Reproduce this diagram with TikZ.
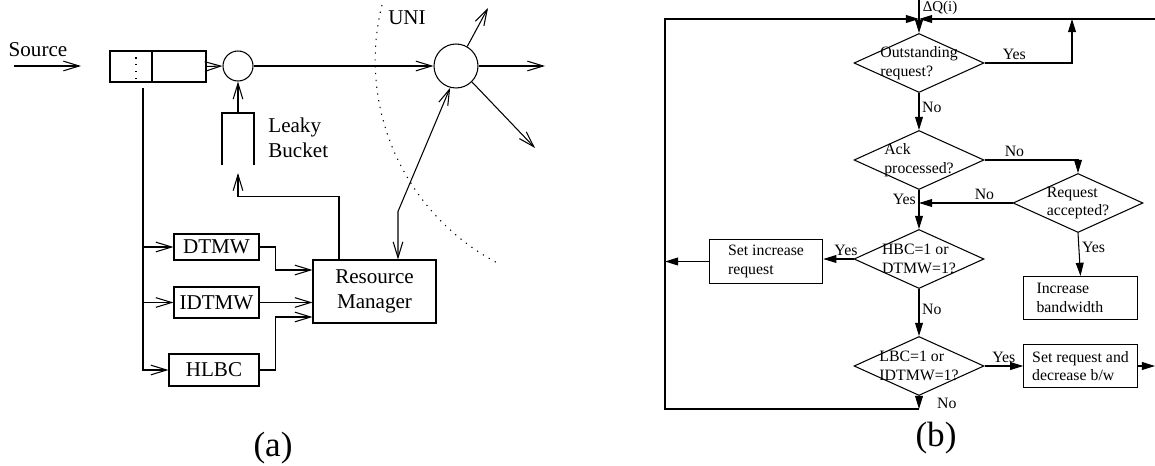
\documentclass[tikz,border=0pt]{standalone}
\usepackage{fontspec}
\setmainfont{Liberation Serif}
\usetikzlibrary{arrows.meta,shapes.geometric}

\tikzset{
  barb/.style={-{Straight Barb[length=9pt,width=5.5pt]}},
  barbs/.style={{Straight Barb[length=9pt,width=5.5pt]}-{Straight Barb[length=9pt,width=5.5pt]}},
  solid tip/.style={-{Triangle[length=7.5pt,width=4.5pt]}},
  big/.style={font=\fontsize{12}{14.5}\selectfont},
  blk/.style={big, draw, inner sep=0pt},
  test/.style={draw, diamond, minimum width=2.6cm, minimum height=1.18cm, inner sep=0pt},
  txt/.style={font=\fontsize{9}{10.5}\selectfont, align=left},
  act/.style={txt, draw, minimum width=2.27cm, minimum height=0.86cm},
  ans/.style={font=\fontsize{9}{10.5}\selectfont, inner sep=1.5pt},
  dots/.style={dash pattern=on 0.7pt off 3.2pt},
}

\begin{document}
\begin{tikzpicture}[x=0.02cm, y=-0.02cm, line width=0.6pt]
\useasboundingbox (0,0) rectangle (1155,466);

%% (a) shaping at the source
\node[big] (src) at (38,50) {Source};
\coordinate (srcin) at (14,66);
\coordinate (srcout) at (81,66);
\draw[barb] (srcin) -- (srcout);

\node[draw, minimum width=1.92cm, minimum height=0.62cm, inner sep=0pt] (queue) at (158,66.5) {};
\draw ([xshift=-0.12cm]queue.north) -- ([xshift=-0.12cm]queue.south);
\draw[dots] ([xshift=-0.44cm]queue.north) -- ([xshift=-0.44cm]queue.south);

\node[draw, circle, minimum size=0.6cm, inner sep=0pt] (mux) at (238,66) {};
\node[draw, circle, minimum size=0.88cm, inner sep=0pt] (sw) at (456,66) {};
\draw[barb] (queue.east) -- (mux.west);
\draw[barb] (mux.east) -- (sw.west);

% links out of the switch
\coordinate (out1) at (488,8);
\coordinate (out2) at (545,66);
\coordinate (out3) at (535,148);
\draw[barb] (sw.60) -- (out1);
\draw[barb] (sw.east) -- (out2);
\draw[barb] (sw.-45) -- (out3);

% network boundary
\draw[dots] (382,5) arc[start angle=194, end angle=118, radius=229];
\node[big] (uni) at (407,18) {UNI};

% leaky bucket
\draw (222,165) -- (222,113) -- (254,113) -- (254,165);
\coordinate (bkt) at (238,113);
\coordinate (bktin) at (238,173);
\draw[barb] (bkt) -- (mux.south);
\node[big, align=left, anchor=west] (lbname) at (262,138) {Leaky\\Bucket};

% monitors and resource manager
\node[blk, minimum width=1.7cm, minimum height=0.52cm] (dtmw) at (216.5,247) {DTMW};
\node[blk, minimum width=1.7cm, minimum height=0.62cm] (idtmw) at (216.5,302.5) {IDTMW};
\node[blk, minimum width=1.8cm, minimum height=0.64cm] (hlbc) at (214,370) {HLBC};
\node[blk, minimum width=2.46cm, minimum height=1.26cm, align=center] (rm) at (374.5,291.5) {Resource\\Manager};

\coordinate (tap) at (143,88);
\draw[barb] (tap) |- (hlbc.west);
\draw[barb] (tap |- dtmw.west) -- (dtmw.west);
\draw[barb] (tap |- idtmw.west) -- (idtmw.west);

\draw[barb] (dtmw.east) -- ++(16,0) |- ([yshift=0.43cm]rm.west);
\draw[barb] (idtmw.east) -- (idtmw.east -| rm.west);
\draw[barb] (hlbc.east) -- ++(16,0) |- ([yshift=-0.51cm]rm.west);
\draw[barb] ([xshift=-0.71cm]rm.north) -- ++(0,-63) -| (bktin);
\draw[barbs] ([xshift=0.47cm]rm.north) -- ++(0,-48) -- (sw.255);

\node[font=\fontsize{20}{24}\selectfont] (capa) at (273,448) {(a)};

%% (b) resource manager decisions
\node[test, label={[txt]center:{Outstanding\\request?}}] (d1) at (919,63) {};
\node[test, label={[txt]center:{Ack\\processed?}}] (d2) at (919,160) {};
\node[test, label={[txt]center:{Request\\accepted?}}] (d3) at (1078,203) {};
\node[test, label={[txt]center:{HBC=1 or\\DTMW=1?}}] (d4) at (919,259) {};
\node[test, label={[txt]center:{LBC=1 or\\IDTMW=1?}}] (d5) at (919,366) {};

\node[act] (b1) at (766,261.5) {Set increase\\request};
\node[act, text width=1.76cm, inner xsep=0.25cm] (b2) at (1080.5,298) {Increase\\bandwidth};
\node[act] (b3) at (1080.5,366) {Set request and\\decrease b/w};

\coordinate (qin) at (919,0);
\coordinate (jn) at (919,19);
\coordinate (qr) at (1155,19);
\coordinate (ret) at (1072,19);
\coordinate (lt) at (665,19);
\coordinate (lb) at (665,409);
\coordinate (out) at (1155,366);

\draw[solid tip] (qin) -- (d1.north);
\node[font=\fontsize{8.5}{10}\selectfont] (dq) at (940,8) {ΔQ(i)};
\draw[solid tip] (qr) -- (jn);

\draw[solid tip] (d1.east) -| node[ans, above, pos=0.17] (y1) {Yes} (ret);
\draw[solid tip] (d1.south) -- node[ans, right, pos=0.4] (n1) {No} (d2.north);
\draw[solid tip] (d2.east) -| node[ans, above, pos=0.16] (n2) {No} (d3.north);
\draw[solid tip] (d3.west) -- node[ans, above, pos=0.3] (n3) {No} (d3.west -| d2.south);
\draw[solid tip] (d3.south) -- node[ans, right, pos=0.33] (y3) {Yes} (b2.north);
\draw[solid tip] (d2.south) -- node[ans, left, pos=0.25] (y2) {Yes} (d4.north);
\draw[solid tip] (d4.west) -- node[ans, above, pos=0.25] (y4) {Yes} (d4.west -| b1.east);
\draw[solid tip] (b1.west) -- (b1.west -| lb);
\draw[solid tip] (d4.south) -- node[ans, right, pos=0.44] (n4) {No} (d5.north);
\draw[solid tip] (d5.east) -- node[ans, above] (y5) {Yes} (d5.east -| b3.west);
\draw[solid tip] (b3.east) -- (out);

% back to the top
\draw[solid tip] (d5.south) -- node[ans, right, xshift=0.3cm, pos=0.6] (n5) {No} (d5.south |- lb);
\draw[solid tip] (d5.south |- lb) -- (lb) -- (lt) -- (jn);

\node[font=\fontsize{20}{24}\selectfont] (capb) at (936,438) {(b)};
\end{tikzpicture}
\end{document}
